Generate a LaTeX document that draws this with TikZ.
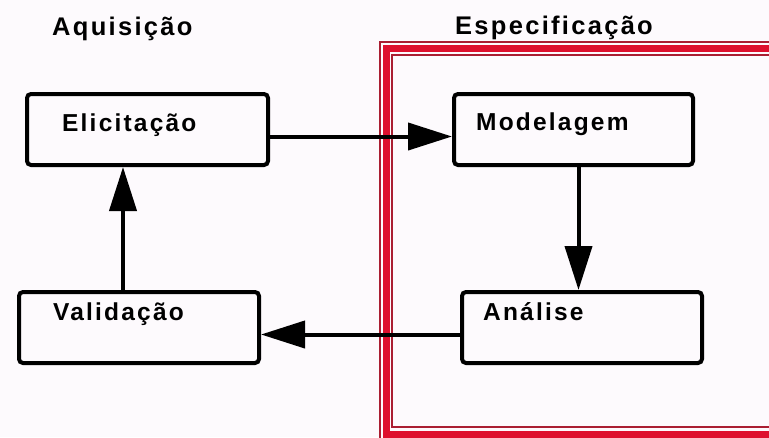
\documentclass[tikz,border=0pt]{standalone}
\usepackage{fontspec}
\newfontfamily\lbfont{Liberation Sans}[LetterSpace=9]
\usetikzlibrary{arrows.meta}
\definecolor{bg}{RGB}{253,250,253}
\definecolor{redthick}{RGB}{222,16,46}
\definecolor{redthin}{RGB}{170,30,50}
\begin{document}
\begin{tikzpicture}[x=1pt,y=-1pt,
  box/.style={draw, line width=4pt, rounded corners=4pt, inner sep=0pt,
              minimum width=240pt, minimum height=71pt, anchor=north west},
  lbl/.style={anchor=base west, inner sep=0pt, font=\lbfont\bfseries\fontsize{24.5}{28}\selectfont},
  hdr/.style={lbl, font=\lbfont\bfseries\fontsize{25.5}{30}\selectfont},
  arr/.style={line width=4pt, -{Triangle[length=44pt,width=27pt]}},
  frthick/.style={draw=redthick, line width=7pt},
  frthin/.style={draw=redthin, line width=1.5pt}]
\fill[bg] (0,0) rectangle (769,437);
\useasboundingbox (0,0) rectangle (769,437);
\clip (0,0) rectangle (769,437);
% red frame
\draw[frthin] (380,42) rectangle (800,441);
\draw[frthick] (386,48.5) rectangle (800,434);
\draw[frthin] (392,55) rectangle (800,427);
% headings
\node[hdr] (aq) at (52,35) {Aquisição};
\node[hdr] (es) at (455,34) {Especificação};
% boxes
\node[box, minimum width=241pt] (eli) at (25,92) {};
\node[box] (val) at (17,290) {};
\node[box, minimum width=239pt] (mod) at (452,92) {};
\node[box] (ana) at (460,290) {};
% box texts
\node[lbl] (elit) at (62,131) {Elicitação};
\node[lbl] (valt) at (53,320) {Validação};
\node[lbl] (modt) at (476,130) {Modelagem};
\node[lbl] (anat) at (483,320) {Análise};
% connectors
\draw[arr] ([yshift=-7pt]eli.east) -- ([yshift=-7pt]mod.west);
\draw[arr] ([xshift=5pt]mod.south) coordinate (m) -- (m |- ana.north);
\draw[arr] ([yshift=-7pt]ana.west) -- ([yshift=-7pt]val.east);
\draw[arr] ([xshift=106pt]val.north west) coordinate (v) -- (v |- eli.south);
\end{tikzpicture}
\end{document}
